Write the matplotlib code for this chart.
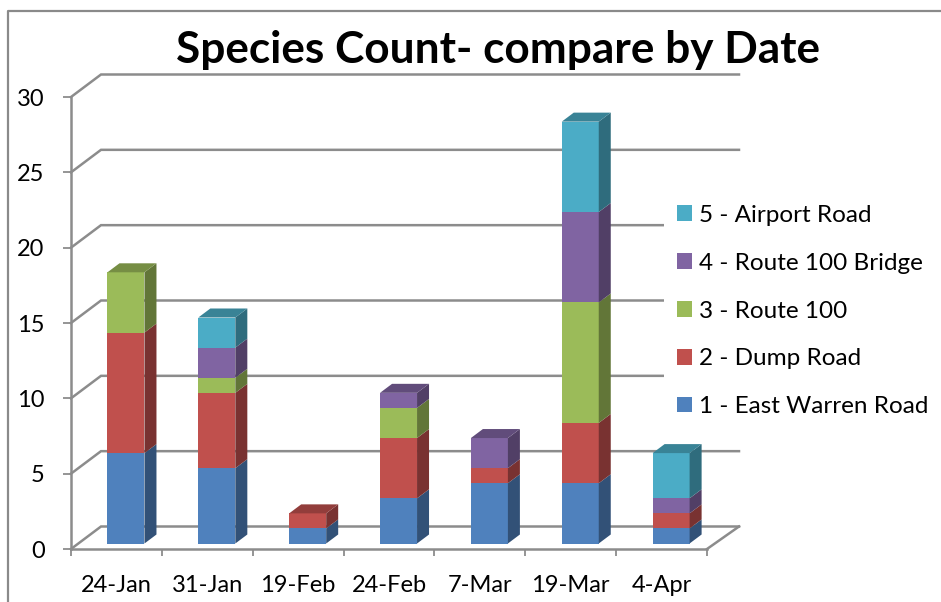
import numpy as np
import matplotlib
matplotlib.use("Agg")
import matplotlib.pyplot as plt
from matplotlib.lines import Line2D
from matplotlib.patches import Polygon, Patch

plt.rcParams['font.family'] = ['Lato', 'DejaVu Sans']

dates = ['24-Jan', '31-Jan', '19-Feb', '24-Feb', '7-Mar', '19-Mar', '4-Apr']
east_warren = [6, 5, 1, 3, 4, 4, 1]
dump_road = [8, 5, 1, 4, 1, 4, 1]
route_100 = [4, 1, 0, 2, 0, 8, 0]
route_100_bridge = [0, 2, 0, 1, 2, 6, 1]
airport_road = [0, 2, 0, 0, 0, 6, 3]

series_names = ['1 - East Warren Road', '2 - Dump Road', '3 - Route 100',
                '4 - Route 100 Bridge', '5 - Airport Road']
series_values = [east_warren, dump_road, route_100, route_100_bridge, airport_road]
colors = ['#4F81BD', '#C0504D', '#9BBB59', '#8064A2', '#4BACC6']

W, H = 941, 602
GRAY = '#8c8c8c'


def darken(c, f):
    r, g, b = matplotlib.colors.to_rgb(c)
    return (r * f, g * f, b * f)


fig = plt.figure(figsize=(W / 100, H / 100), dpi=100)
# axes box is the front plane of the fake 3d chart
left, right, bottom, top = 71, 707, 549, 97
ax = fig.add_axes([left / W, 1 - bottom / H, (right - left) / W, (bottom - top) / H])
ax.set_xlim(0, 7)
ax.set_ylim(0, 30)
ax.patch.set_alpha(0)

px = 7 / (right - left)
py = 30 / (bottom - top)

# back wall
wall_dx, wall_dy = 30 * px, 22.5 * py
end_dx = 32 * px
for v in range(0, 31, 5):
    ax.plot([0, wall_dx, 7 + end_dx], [v, v + wall_dy, v + wall_dy], color=GRAY, lw=1.8,
            clip_on=False, zorder=1, solid_joinstyle='miter')
ax.plot([7, 7 + end_dx], [0, wall_dy], color=GRAY, lw=1.8, clip_on=False, zorder=1)

# bars
bar_w = 37 * px
base = 5.5 * py
side_dx, side_dy = 12 * px, 9 * py
x = np.arange(len(dates)) + 0.605
bottoms = np.full(len(dates), base)
for vals, col, name in zip(series_values, colors, series_names):
    vals = np.array(vals, dtype=float)
    ax.bar(x, vals, bar_w, bottom=bottoms, color=col, zorder=3, clip_on=False, label=name)
    for xi, b, v in zip(x, bottoms, vals):
        if v == 0:
            continue
        xr = xi + bar_w / 2
        ax.add_patch(Polygon([(xr, b), (xr + side_dx, b + side_dy),
                              (xr + side_dx, b + v + side_dy), (xr, b + v)],
                             closed=True, fc=darken(col, 0.63), ec='none', zorder=3, clip_on=False))
    bottoms = bottoms + vals

# caps on top of each stack, in the colour of the top segment
for i, xi in enumerate(x):
    cap = [c for vals, c in zip(series_values, colors) if vals[i] > 0][-1]
    xl, xr, t = xi - bar_w / 2, xi + bar_w / 2, bottoms[i]
    ax.add_patch(Polygon([(xl, t), (xr, t), (xr + side_dx, t + side_dy), (xl + side_dx, t + side_dy)],
                         closed=True, fc=darken(cap, 0.76), ec='none', zorder=3, clip_on=False))

# axes
for s in ['top', 'right']:
    ax.spines[s].set_visible(False)
for s in ['left', 'bottom']:
    ax.spines[s].set_color(GRAY)
    ax.spines[s].set_linewidth(1.8)
    ax.spines[s].set_zorder(2)
ax.set_yticks(range(0, 31, 5))
ax.set_xticks(range(8))
ax.set_xticklabels([])
ax.set_xticks(np.arange(len(dates)) + 0.5, dates, minor=True)
ax.tick_params(axis='x', which='major', length=5, width=1.3, color=GRAY)
ax.tick_params(axis='x', which='minor', length=0, pad=19, labelsize=17)
ax.tick_params(axis='y', length=6, width=1.3, color=GRAY, pad=13, labelsize=17)

# legend
handles = [Patch(fc=c, ec='none', label=n) for c, n in zip(colors, series_names)][::-1]
leg = ax.legend(handles=handles, loc='center left', bbox_to_anchor=(664 / W, 1 - 311 / H),
                bbox_transform=fig.transFigure, fontsize=17.5, frameon=True, facecolor='white',
                edgecolor='none', framealpha=1, fancybox=False, handlelength=0.62, handleheight=0.6,
                handletextpad=0.29, labelspacing=1.107, borderaxespad=0, borderpad=0.53)
leg.set_zorder(2)

fig.text(497.5 / W, 1 - 63 / H, 'Species Count- compare by Date', ha='center', va='baseline',
         fontsize=31.75, fontweight='bold', color='black')

# outer chart frame
fig.add_artist(Line2D([7.5 / W, 7.5 / W, 1], [0, 1 - 10.5 / H, 1 - 10.5 / H],
                      color='#8a8a8a', lw=1.6))

fig.savefig('out.png', dpi=100)
